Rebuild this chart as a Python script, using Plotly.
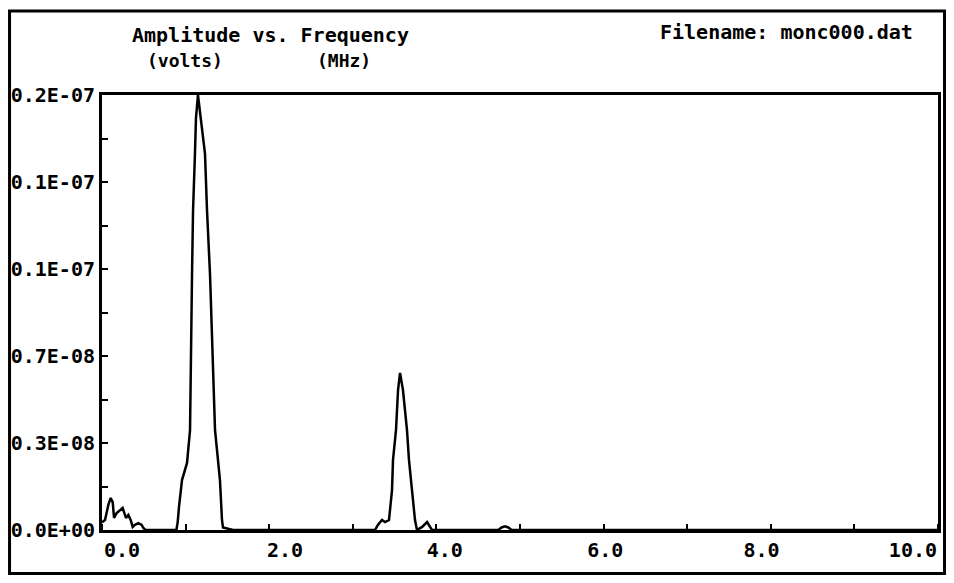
import numpy as np
import plotly.graph_objects as go

# spectrum: frequency (MHz) vs amplitude (units of 1E-08 volts)
freq_mhz = [0.0, 0.036, 0.076, 0.104, 0.128, 0.144, 0.175, 0.215, 0.247, 0.275, 0.287,
            0.315, 0.343, 0.367, 0.395, 0.435, 0.475, 0.494, 0.52,
            0.89, 0.905, 0.921, 0.957, 1.017, 1.053, 1.077, 1.089, 1.112, 1.124, 1.148,
            1.184, 1.232, 1.256, 1.292, 1.352, 1.388, 1.411, 1.435, 1.447, 1.567,
            3.266, 3.30, 3.349, 3.385, 3.433, 3.469, 3.481, 3.517, 3.541, 3.565,
            3.600, 3.648, 3.672, 3.708, 3.744, 3.768, 3.83, 3.888, 3.947,
            4.74, 4.78, 4.82, 4.86, 4.90, 10.0]
amp_1e8_volts = [0.03, 0.039, 0.098, 0.125, 0.109, 0.047, 0.066, 0.078, 0.086, 0.059, 0.047,
                 0.059, 0.039, 0.012, 0.02, 0.027, 0.02, 0.008, 0.0,
                 0.0, 0.03, 0.09, 0.195, 0.262, 0.39, 1.004, 1.25, 1.47, 1.61, 1.70,
                 1.61, 1.47, 1.25, 1.00, 0.39, 0.26, 0.195, 0.04, 0.01, 0.0,
                 0.0, 0.02, 0.039, 0.031, 0.039, 0.156, 0.274, 0.391, 0.547, 0.614,
                 0.547, 0.391, 0.274, 0.156, 0.039, 0.0, 0.012, 0.031, 0.0,
                 0.0, 0.01, 0.014, 0.01, 0.0, 0.0]

y_tick_vals = [0.0, 0.17e-8, 0.34e-8, 0.51e-8, 0.68e-8, 0.85e-8,
               1.02e-8, 1.19e-8, 1.36e-8, 1.53e-8, 1.70e-8]
y_tick_text = ["0.0E+00", "", "0.3E-08", "", "0.7E-08", "",
               "0.1E-07", "", "0.1E-07", "", "0.2E-07"]
x_tick_vals = [0, 1, 2, 3, 4, 5, 6, 7, 8, 9, 10]
x_label_pos = [0.24, 2.19, 4.10, 6.02, 7.89, 9.70]
x_label_text = ["0.0", "2.0", "4.0", "6.0", "8.0", "10.0"]

amp_volts = np.array(amp_1e8_volts) * 1e-8

FONT = dict(family="DejaVu Sans Mono", size=20, color="black", weight="bold")
SUB_FONT = dict(family="DejaVu Sans Mono", size=18, color="black", weight="bold")

fig = go.Figure()
fig.add_trace(go.Scatter(x=freq_mhz, y=amp_volts, mode="lines",
    line=dict(color="black", width=2.5), showlegend=False, hoverinfo="x+y"))

# page body adds an 8px margin, so the figure is kept a bit smaller than the window
fig.update_layout(
    width=938, height=567,
    margin=dict(l=94, r=8, t=87, b=45),
    paper_bgcolor="white", plot_bgcolor="white",
    font=FONT,
    xaxis=dict(range=[0, 10], showline=True, linewidth=3, linecolor="black", mirror=True,
               ticks="", tickvals=x_label_pos, ticktext=x_label_text, tickfont=FONT,
               minor=dict(tickvals=x_tick_vals, ticks="inside", ticklen=6,
                          tickwidth=2, tickcolor="black", showgrid=False),
               showgrid=False, zeroline=False, automargin=False),
    yaxis=dict(range=[0, 1.7e-8], showline=True, linewidth=3, linecolor="black", mirror=True,
               ticks="inside", ticklen=6, tickwidth=2, tickcolor="black",
               tickvals=y_tick_vals, ticktext=y_tick_text, tickfont=FONT,
               showgrid=False, zeroline=False, automargin=False),
)

fig.add_annotation(text="Amplitude vs. Frequency", xref="paper", yref="paper",
    x=0.202, y=1.137, xanchor="center", yanchor="middle", showarrow=False, font=FONT)
fig.add_annotation(text="(volts)", xref="paper", yref="paper",
    x=0.0987, y=1.080, xanchor="center", yanchor="middle", showarrow=False, font=SUB_FONT)
fig.add_annotation(text="(MHz)", xref="paper", yref="paper",
    x=0.290, y=1.080, xanchor="center", yanchor="middle", showarrow=False, font=SUB_FONT)
fig.add_annotation(text="Filename: monc000.dat", xref="paper", yref="paper",
    x=0.665, y=1.145, xanchor="left", yanchor="middle", showarrow=False, font=FONT)

# outer frame of the page
fig.add_shape(type="rect", xref="paper", yref="paper",
    x0=-0.1106, x1=1.0078, y0=-0.1, y1=1.193,
    line=dict(color="black", width=3))

fig.write_html("out.html")
